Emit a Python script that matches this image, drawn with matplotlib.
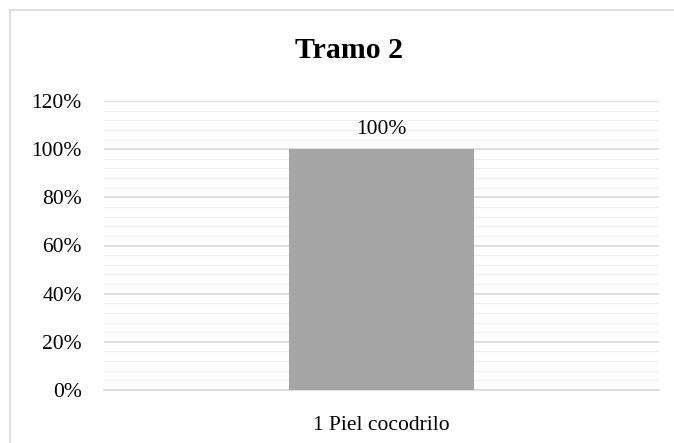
import matplotlib.pyplot as plt
from matplotlib.lines import Line2D
from matplotlib.ticker import MultipleLocator, PercentFormatter

plt.rcParams['font.family'] = ['Liberation Serif', 'DejaVu Serif']

categories = ['1 Piel cocodrilo']
values = [100]
title = 'Tramo 2'

W, H = 674, 443
fig = plt.figure(figsize=(W / 100, H / 100), dpi=100)
fig.patch.set_facecolor('white')

# plot area in pixels: left 104, right 659, top (120%) 101, bottom (0%) 390
ax = fig.add_axes([104 / W, 1 - 390 / H, (659 - 104) / W, (390 - 101) / H])

x = list(range(len(categories)))
bars = ax.bar(x, values, width=0.333, color='#a5a5a5', zorder=3)

ax.set_xlim(-0.5, len(categories) - 0.5)
ax.set_ylim(0, 120)
ax.yaxis.set_major_locator(MultipleLocator(20))
ax.yaxis.set_minor_locator(MultipleLocator(4))
ax.yaxis.set_major_formatter(PercentFormatter(decimals=0))
ax.grid(axis='y', which='major', color='#d9d9d9', linewidth=1.2, zorder=1)
ax.grid(axis='y', which='minor', color='#f0f0f0', linewidth=1.0, zorder=0)

ax.set_xticks(x)
ax.set_xticklabels(categories)
ax.tick_params(axis='both', which='both', length=0, labelsize=15.5)
ax.tick_params(axis='x', pad=19)
ax.tick_params(axis='y', pad=16)
for side in ['top', 'right', 'left']:
    ax.spines[side].set_visible(False)
ax.spines['bottom'].set_color('#d9d9d9')
ax.spines['bottom'].set_linewidth(1.2)

for b, v in zip(bars, values):
    ax.annotate(f'{v}%', (b.get_x() + b.get_width() / 2, v),
                xytext=(0, 7), textcoords='offset points',
                ha='center', va='bottom', fontsize=15.5)

fig.text(349 / W, 1 - 50 / H, title, ha='center', va='center',
         fontsize=21.5, fontweight='bold')

# chart frame (left and top edges visible)
fig.add_artist(Line2D([10 / W, 10 / W], [0, 1 - 10 / H], transform=fig.transFigure,
                      color='#d9d9d9', linewidth=1.2))
fig.add_artist(Line2D([10 / W, 1], [1 - 10 / H, 1 - 10 / H], transform=fig.transFigure,
                      color='#d9d9d9', linewidth=1.2))

fig.savefig('out.png', dpi=100)
